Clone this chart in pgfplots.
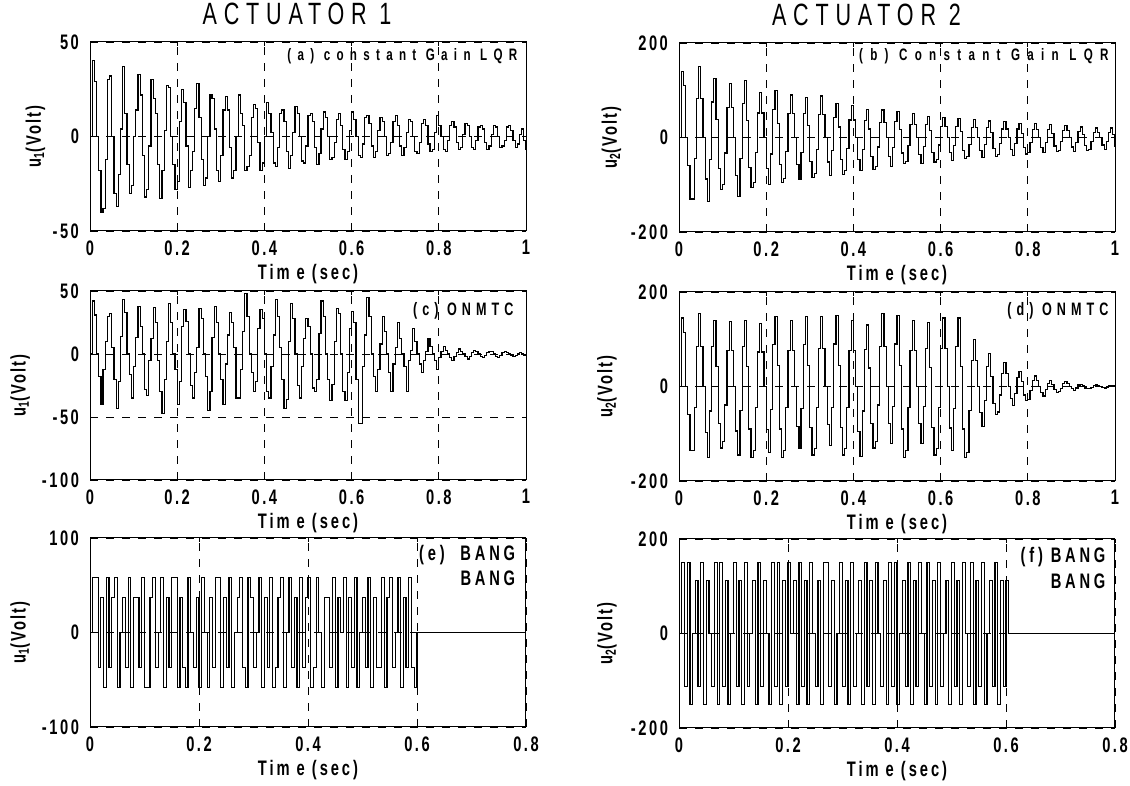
\documentclass[border=0pt]{standalone}
\usepackage{fontspec}
\setmainfont{Liberation Sans}[FakeStretch=0.7]
\usepackage{pgfplots}
\pgfplotsset{compat=1.18}

% fonts of the scan: condensed, letter-spaced
\newcommand{\tickfont}{\bfseries\fontsize{10.5}{12}\selectfont\addfontfeatures{LetterSpace=12}}
\newcommand{\labfont}{\bfseries\fontsize{10.5}{12}\selectfont\addfontfeatures{LetterSpace=14}}

\tikzset{note/.style={anchor=base east, inner sep=0pt}}
\pgfplotsset{
  panel/.style={
    scale only axis, width=218pt, height=94.5pt, anchor=south west,
    axis line style={line width=0.5pt},
    xmajorgrids, ymajorgrids,
    major grid style={black, line width=0.45pt, dash pattern=on 4pt off 4pt},
    tick align=inside, major tick length=2pt, tick style={black, line width=0.4pt},
    /pgf/number format/assume math mode=true,
    tick label style={font=\tickfont},
    xticklabel style={yshift=-1.2pt},
    yticklabel style={xshift=-2pt},
    xlabel={Tim e (sec)},
    xlabel style={at={(axis description cs:0.5,0)}, anchor=center, yshift=-21.5pt, font=\labfont},
    ylabel style={anchor=center, font=\bfseries\fontsize{10.5}{12}\selectfont\addfontfeatures{LetterSpace=10}},
    title style={anchor=base, yshift=2.5pt, font=\fontsize{15.4}{18}\selectfont\addfontfeatures{LetterSpace=22}},
  },
  full/.style={xmin=0, xmax=1, xtick={0,0.2,0.4,0.6,0.8,1}},
  short/.style={xmin=0, xmax=0.8, xtick={0,0.2,0.4,0.6,0.8}},
  sig/.style={const plot, black, line width=0.6pt, mark=none},
}

\begin{document}
\begin{tikzpicture}
\useasboundingbox (0,0) rectangle (565pt,393pt);

% (a)
\begin{axis}[panel, full, at={(45pt,277.5pt)}, ymin=-50, ymax=50, ytick={-50,0,50},
  ylabel={u\textsubscript{1}(Volt)}, ylabel style={at={(axis description cs:-0.125,0.5)}},
  title={ACTUATOR 1}, title style={at={(axis description cs:0.475,1)}}]
\addplot[sig] coordinates {
(0,0) (0.005,40) (0.010,29) (0.015,0) (0.020,-18) (0.025,-40) (0.030,-38)
(0.035,-12) (0.040,30) (0.045,32) (0.050,0) (0.055,-30) (0.060,-37) (0.065,-20)
(0.070,4) (0.075,37) (0.080,12) (0.085,-15) (0.090,-30) (0.095,-26) (0.100,0)
(0.105,14) (0.110,33) (0.115,22) (0.120,-10) (0.125,-32) (0.130,-28) (0.135,-5)
(0.140,30) (0.145,20) (0.150,12) (0.155,-15) (0.160,-33) (0.165,-18) (0.170,3)
(0.175,27) (0.180,26) (0.185,0) (0.190,-15) (0.195,-28) (0.200,-24) (0.205,8)
(0.210,25) (0.215,18) (0.220,-5) (0.225,-27) (0.230,-18) (0.235,-8) (0.240,15)
(0.245,28) (0.250,10) (0.255,-12) (0.260,-26) (0.265,-22) (0.270,0) (0.275,22)
(0.280,20) (0.285,4) (0.290,-18) (0.295,-24) (0.300,-10) (0.305,14) (0.310,21)
(0.315,14) (0.320,-6) (0.325,-22) (0.330,-18) (0.335,0) (0.340,22) (0.345,12)
(0.350,6) (0.355,-18) (0.360,-16) (0.365,-10) (0.370,10) (0.375,17) (0.380,15)
(0.385,-3) (0.390,-18) (0.395,-14) (0.400,0) (0.405,18) (0.410,12) (0.415,2)
(0.420,-14) (0.425,-16) (0.430,-6) (0.435,12) (0.440,14) (0.445,8) (0.450,-8)
(0.455,-17) (0.460,-10) (0.465,2) (0.470,16) (0.475,12) (0.480,0) (0.485,-13)
(0.490,-14) (0.495,-5) (0.500,11) (0.505,12) (0.510,8) (0.515,-6) (0.520,-15)
(0.525,-9) (0.530,4) (0.535,13) (0.540,10) (0.545,0) (0.550,-12) (0.555,-11)
(0.560,-3) (0.565,9) (0.570,12) (0.575,6) (0.580,-7) (0.585,-12) (0.590,-8)
(0.595,3) (0.600,13) (0.605,9) (0.610,0) (0.615,-10) (0.620,-11) (0.625,-4)
(0.630,10) (0.635,11) (0.640,7) (0.645,-5) (0.650,-11) (0.655,-8) (0.660,3)
(0.665,10) (0.670,8) (0.675,0) (0.680,-10) (0.685,-9) (0.690,-3) (0.695,8)
(0.700,11) (0.705,6) (0.710,-5) (0.715,-10) (0.720,-6) (0.725,2) (0.730,9)
(0.735,8) (0.740,0) (0.745,-8) (0.750,-9) (0.755,-3) (0.760,7) (0.765,9)
(0.770,6) (0.775,-4) (0.780,-8) (0.785,-7) (0.790,2) (0.795,11) (0.800,6)
(0.805,0) (0.810,-7) (0.815,-8) (0.820,-2) (0.825,6) (0.830,8) (0.835,5)
(0.840,-3) (0.845,-7) (0.850,-6) (0.855,1) (0.860,7) (0.865,6) (0.870,0)
(0.875,-6) (0.880,-7) (0.885,-2) (0.890,5) (0.895,6) (0.900,4) (0.905,-3)
(0.910,-7) (0.915,-5) (0.920,1) (0.925,6) (0.930,5) (0.935,0) (0.940,-6)
(0.945,-5) (0.950,-2) (0.955,5) (0.960,6) (0.965,3) (0.970,-2) (0.975,-6)
(0.980,-4) (0.985,1) (0.990,4) (0.995,-2) (1.000,-7)
};
\node[note, font=\bfseries\fontsize{8.3}{9}\selectfont\addfontfeatures{LetterSpace=38}] at (rel axis cs:0.981,0.90) {(a) constant Gain LQR};
\end{axis}

% (b)
\begin{axis}[panel, full, at={(339.5pt,277pt)}, ymin=-200, ymax=200, ytick={-200,0,200},
  ylabel={u\textsubscript{2}(Volt)}, ylabel style={at={(axis description cs:-0.155,0.5)}},
  title={ACTUATOR 2}, title style={at={(axis description cs:0.43,1)}}]
\addplot[sig] coordinates {
(0,0)
(0.005,140) (0.010,110) (0.015,0) (0.020,-60) (0.025,-130) (0.030,-130) (0.035,-45)
(0.040,82) (0.045,150) (0.050,82) (0.055,0) (0.060,-88) (0.065,-135) (0.070,-47)
(0.075,75) (0.080,125) (0.085,38) (0.090,-66) (0.095,-110) (0.100,-99) (0.105,-33)
(0.110,63) (0.115,115) (0.120,63) (0.125,0) (0.130,-81) (0.135,-125) (0.140,-44)
(0.145,72) (0.150,120) (0.155,36) (0.160,-63) (0.165,-105) (0.170,-95) (0.175,-32)
(0.180,52) (0.185,95) (0.190,52) (0.195,0) (0.200,-65) (0.205,-100) (0.210,-35)
(0.215,60) (0.220,100) (0.225,30) (0.230,-57) (0.235,-95) (0.240,-86) (0.245,-29)
(0.250,50) (0.255,90) (0.260,50) (0.265,0) (0.270,-57) (0.275,-88) (0.280,-31)
(0.285,51) (0.290,85) (0.295,26) (0.300,-51) (0.305,-85) (0.310,-77) (0.315,-26)
(0.320,48) (0.325,88) (0.330,48) (0.335,0) (0.340,-52) (0.345,-80) (0.350,-28)
(0.355,43) (0.360,72) (0.365,22) (0.370,-47) (0.375,-78) (0.380,-70) (0.385,-23)
(0.390,37) (0.395,68) (0.400,37) (0.405,0) (0.410,-46) (0.415,-70) (0.420,-25)
(0.425,36) (0.430,60) (0.435,18) (0.440,-41) (0.445,-68) (0.450,-61) (0.455,-20)
(0.460,32) (0.465,58) (0.470,32) (0.475,0) (0.480,-40) (0.485,-62) (0.490,-22)
(0.495,33) (0.500,55) (0.505,17) (0.510,-33) (0.515,-55) (0.520,-50) (0.525,-17)
(0.530,28) (0.535,50) (0.540,28) (0.545,0) (0.550,-36) (0.555,-55) (0.560,-19)
(0.565,27) (0.570,45) (0.575,14) (0.580,-31) (0.585,-52) (0.590,-47) (0.595,-16)
(0.600,23) (0.605,42) (0.610,23) (0.615,0) (0.620,-31) (0.625,-48) (0.630,-17)
(0.635,24) (0.640,40) (0.645,12) (0.650,-27) (0.655,-45) (0.660,-41) (0.665,-14)
(0.670,21) (0.675,38) (0.680,21) (0.685,0) (0.690,-27) (0.695,-42) (0.700,-15)
(0.705,21) (0.710,35) (0.715,11) (0.720,-24) (0.725,-40) (0.730,-36) (0.735,-12)
(0.740,18) (0.745,33) (0.750,18) (0.755,0) (0.760,-25) (0.765,-38) (0.770,-13)
(0.775,18) (0.780,30) (0.785,9) (0.790,-21) (0.795,-35) (0.800,-32) (0.805,-11)
(0.810,17) (0.815,30) (0.820,17) (0.825,0) (0.830,-21) (0.835,-32) (0.840,-11)
(0.845,17) (0.850,28) (0.855,8) (0.860,-18) (0.865,-30) (0.870,-27) (0.875,-9)
(0.880,14) (0.885,25) (0.890,14) (0.895,0) (0.900,-20) (0.905,-30) (0.910,-10)
(0.915,13) (0.920,22) (0.925,7) (0.930,-17) (0.935,-28) (0.940,-25) (0.945,-8)
(0.950,11) (0.955,20) (0.960,11) (0.965,0) (0.970,-16) (0.975,-25) (0.980,-9)
(0.985,11) (0.990,20) (0.995,6) (1.000,-20)
};
\node[note, font=\bfseries\fontsize{8.3}{9}\selectfont\addfontfeatures{LetterSpace=44}] at (rel axis cs:0.986,0.905) {(b) Constant Gain LQR};
\end{axis}

% (c)
\begin{axis}[panel, full, at={(45pt,153pt)}, ymin=-100, ymax=50, ytick={-100,-50,0,50},
  ylabel={u\textsubscript{1}(Volt)}, ylabel style={at={(axis description cs:-0.16,0.5)}}]
\addplot[sig] coordinates {
(0,0)
(0.005,42) (0.010,31) (0.015,0) (0.020,-18) (0.025,-40) (0.030,-12) (0.035,10)
(0.040,30) (0.045,32) (0.050,5) (0.055,-20) (0.060,-43) (0.065,-22) (0.070,14)
(0.075,43) (0.080,33) (0.085,0) (0.090,-16) (0.095,-35) (0.100,-10) (0.105,13)
(0.110,38) (0.115,22) (0.120,0) (0.125,-28) (0.130,-33) (0.135,-5) (0.140,12)
(0.145,37) (0.150,25) (0.155,-5) (0.160,-30) (0.165,-47) (0.170,-20) (0.175,10)
(0.180,40) (0.185,25) (0.190,0) (0.195,-12) (0.200,-40) (0.205,-22) (0.210,22)
(0.215,35) (0.220,26) (0.225,0) (0.230,-25) (0.235,-35) (0.240,-15) (0.245,5)
(0.250,36) (0.255,28) (0.260,0) (0.265,-18) (0.270,-45) (0.275,-30) (0.280,13)
(0.285,38) (0.290,25) (0.295,0) (0.300,-20) (0.305,-40) (0.310,-8) (0.315,15)
(0.320,33) (0.325,25) (0.330,5) (0.335,-35) (0.340,-35) (0.345,-12) (0.350,18)
(0.355,48) (0.360,30) (0.365,0) (0.370,-15) (0.375,-30) (0.380,-22) (0.385,20)
(0.390,35) (0.395,28) (0.400,0) (0.405,-30) (0.410,-35) (0.415,-10) (0.420,15)
(0.425,43) (0.430,30) (0.435,5) (0.440,-20) (0.445,-43) (0.450,-36) (0.455,10)
(0.460,40) (0.465,28) (0.470,0) (0.475,-25) (0.480,-35) (0.485,-10) (0.490,12)
(0.495,28) (0.500,22) (0.505,0) (0.510,-27) (0.515,-30) (0.520,-20) (0.525,16)
(0.530,42) (0.535,30) (0.540,0) (0.545,-20) (0.550,-37) (0.555,-24) (0.560,10)
(0.565,36) (0.570,32) (0.575,0) (0.580,-30) (0.585,-37) (0.590,-15) (0.595,20)
(0.600,34) (0.605,25) (0.610,-20) (0.615,-55) (0.620,-55) (0.625,-10) (0.630,15)
(0.635,45) (0.640,30) (0.645,0) (0.650,-18) (0.655,-30) (0.660,-12) (0.665,8)
(0.670,30) (0.675,18) (0.680,0) (0.685,-15) (0.690,-30) (0.695,-8) (0.700,5)
(0.705,25) (0.710,12) (0.715,0) (0.720,-10) (0.725,-30) (0.730,-5) (0.735,3)
(0.740,20) (0.745,10) (0.750,0) (0.755,-8) (0.760,-15) (0.765,-5) (0.770,2)
(0.775,12) (0.780,6) (0.785,0) (0.790,-5) (0.795,-12) (0.800,-3) (0.805,2)
(0.810,6) (0.815,3) (0.820,0) (0.825,-3) (0.830,-5) (0.835,-2) (0.840,1)
(0.845,4) (0.850,2) (0.855,0) (0.860,-2) (0.865,-4) (0.870,-2) (0.875,1)
(0.880,3) (0.885,2) (0.890,0) (0.895,-2) (0.900,-3) (0.905,-1) (0.910,1)
(0.915,2) (0.920,2) (0.925,0) (0.930,-2) (0.935,-3) (0.940,-1) (0.945,1)
(0.950,2) (0.955,1) (0.960,0) (0.965,-1) (0.970,-2) (0.975,-1) (0.980,0)
(0.985,1) (0.990,0) (0.995,-1) (1.000,-1)
};
\node[note, font=\bfseries\fontsize{9}{11}\selectfont\addfontfeatures{LetterSpace=28}] at (rel axis cs:0.972,0.871) {(c) ONMTC};
\end{axis}

% (d)
\begin{axis}[panel, full, at={(339.5pt,152.5pt)}, ymin=-200, ymax=200, ytick={-200,0,200},
  ylabel={u\textsubscript{2}(Volt)}, ylabel style={at={(axis description cs:-0.165,0.5)}}]
\addplot[sig] coordinates {
(0,0)
(0.005,145) (0.010,115) (0.015,0) (0.020,-60) (0.025,-135) (0.030,-135) (0.035,-45)
(0.040,85) (0.045,155) (0.050,85) (0.055,0) (0.060,-98) (0.065,-150) (0.070,-52)
(0.075,84) (0.080,140) (0.085,42) (0.090,-78) (0.095,-130) (0.100,-117) (0.105,-39)
(0.110,76) (0.115,138) (0.120,76) (0.125,0) (0.130,-94) (0.135,-145) (0.140,-51)
(0.145,84) (0.150,140) (0.155,42) (0.160,-90) (0.165,-150) (0.170,-135) (0.175,-45)
(0.180,73) (0.185,133) (0.190,73) (0.195,0) (0.200,-91) (0.205,-140) (0.210,-49)
(0.215,89) (0.220,148) (0.225,44) (0.230,-90) (0.235,-150) (0.240,-135) (0.245,-45)
(0.250,77) (0.255,140) (0.260,77) (0.265,0) (0.270,-85) (0.275,-130) (0.280,-46)
(0.285,89) (0.290,148) (0.295,44) (0.300,-87) (0.305,-145) (0.310,-131) (0.315,-44)
(0.320,81) (0.325,148) (0.330,81) (0.335,0) (0.340,-81) (0.345,-125) (0.350,-44)
(0.355,90) (0.360,150) (0.365,45) (0.370,-87) (0.375,-145) (0.380,-131) (0.385,-44)
(0.390,77) (0.395,140) (0.400,77) (0.405,0) (0.410,-96) (0.415,-148) (0.420,-52)
(0.425,78) (0.430,130) (0.435,39) (0.440,-78) (0.445,-130) (0.450,-117) (0.455,-39)
(0.460,85) (0.465,155) (0.470,85) (0.475,0) (0.480,-78) (0.485,-120) (0.490,-42)
(0.495,90) (0.500,150) (0.505,45) (0.510,-90) (0.515,-150) (0.520,-135) (0.525,-45)
(0.530,77) (0.535,140) (0.540,77) (0.545,0) (0.550,-78) (0.555,-120) (0.560,-42)
(0.565,81) (0.570,135) (0.575,41) (0.580,-87) (0.585,-145) (0.590,-131) (0.595,-44)
(0.600,80) (0.605,145) (0.610,80) (0.615,0) (0.620,-88) (0.625,-135) (0.630,-47)
(0.635,84) (0.640,145) (0.645,42) (0.650,-90) (0.655,-150) (0.660,-140) (0.665,-50)
(0.670,55) (0.675,100) (0.680,55) (0.685,0) (0.690,-55) (0.695,-85) (0.700,-30)
(0.705,42) (0.710,70) (0.715,21) (0.720,-36) (0.725,-60) (0.730,-54) (0.735,-18)
(0.740,28) (0.745,50) (0.750,28) (0.755,0) (0.760,-26) (0.765,-40) (0.770,-14)
(0.775,19) (0.780,32) (0.785,10) (0.790,-18) (0.795,-30) (0.800,-27) (0.805,-9)
(0.810,12) (0.815,22) (0.820,12) (0.825,0) (0.830,-13) (0.835,-20) (0.840,-7)
(0.845,7) (0.850,12) (0.855,4) (0.860,-7) (0.865,-12) (0.870,-11) (0.875,-4)
(0.880,6) (0.885,10) (0.890,6) (0.895,0) (0.900,-5) (0.905,-8) (0.910,-3)
(0.915,3) (0.920,5) (0.925,2) (0.930,-3) (0.935,-5) (0.940,-4) (0.945,-2)
(0.950,2) (0.955,3) (0.960,2) (0.965,0) (0.970,-2) (0.975,-3) (0.980,-1)
(0.985,1) (0.990,2) (0.995,1) (1.000,-1)
};
\node[note, font=\bfseries\fontsize{9}{11}\selectfont\addfontfeatures{LetterSpace=28}] at (rel axis cs:0.986,0.876) {(d) ONMTC};
\end{axis}

% (e)
\begin{axis}[panel, short, at={(45pt,29.5pt)}, ymin=-100, ymax=100, ytick={-100,0,100},
  ylabel={u\textsubscript{1}(Volt)}, ylabel style={at={(axis description cs:-0.16,0.5)}}]
\addplot[sig] coordinates {
(0,0) (0.005,58) (0.010,58) (0.015,-37) (0.020,37) (0.025,-58) (0.030,58)
(0.035,-37) (0.040,37) (0.045,58) (0.050,-58) (0.055,0) (0.060,37) (0.065,-37)
(0.070,58) (0.075,-58) (0.080,37) (0.085,37) (0.090,-37) (0.095,58) (0.100,-58)
(0.105,-58) (0.110,37) (0.115,58) (0.120,-37) (0.125,0) (0.130,58) (0.135,-58)
(0.140,37) (0.145,-37) (0.150,58) (0.155,58) (0.160,-58) (0.165,37) (0.170,-37)
(0.175,-58) (0.180,58) (0.185,0) (0.190,-37) (0.195,37) (0.200,-58) (0.205,58)
(0.210,0) (0.215,-58) (0.220,37) (0.225,-37) (0.230,58) (0.235,58) (0.240,-58)
(0.245,37) (0.250,-37) (0.255,58) (0.260,-58) (0.265,0) (0.270,37) (0.275,58)
(0.280,-37) (0.285,-58) (0.290,58) (0.295,37) (0.300,-37) (0.305,0) (0.310,58)
(0.315,-58) (0.320,37) (0.325,-37) (0.330,58) (0.335,-58) (0.340,-37) (0.345,37)
(0.350,58) (0.355,-58) (0.360,0) (0.365,58) (0.370,-37) (0.375,37) (0.380,-58)
(0.385,58) (0.390,-37) (0.395,37) (0.400,58) (0.405,-58) (0.410,-37) (0.415,58)
(0.420,0) (0.425,-58) (0.430,37) (0.435,37) (0.440,-37) (0.445,58) (0.450,-58)
(0.455,37) (0.460,0) (0.465,58) (0.470,-58) (0.475,37) (0.480,-37) (0.485,58)
(0.490,-58) (0.495,0) (0.500,37) (0.505,-37) (0.510,58) (0.515,-58) (0.520,37)
(0.525,-37) (0.530,-37) (0.535,58) (0.540,-58) (0.545,37) (0.550,58) (0.555,-37)
(0.560,0) (0.565,58) (0.570,-58) (0.575,37) (0.580,-37) (0.585,58) (0.590,-37)
(0.595,-58) (0.600,0) (0.800,0)
};
\node[note, font=\bfseries\fontsize{10.5}{12}\selectfont\addfontfeatures{LetterSpace=18}] at (rel axis cs:0.976,0.88) {(e)\ \ BANG};
\node[note, font=\bfseries\fontsize{10.5}{12}\selectfont\addfontfeatures{LetterSpace=18}] at (rel axis cs:0.976,0.747) {BANG};
\end{axis}

% (f)
\begin{axis}[panel, short, at={(339.5pt,29pt)}, ymin=-200, ymax=200, ytick={-200,0,200},
  ylabel={u\textsubscript{2}(Volt)}, ylabel style={at={(axis description cs:-0.165,0.5)}}]
\addplot[sig] coordinates {
(0,0) (0.005,150) (0.010,-112) (0.015,150) (0.020,-150) (0.025,0) (0.030,112)
(0.035,-112) (0.040,150) (0.045,-150) (0.050,112) (0.055,0) (0.060,-112) (0.065,150)
(0.070,-150) (0.075,150) (0.080,-112) (0.085,112) (0.090,-150) (0.095,0) (0.100,150)
(0.105,-112) (0.110,112) (0.115,-150) (0.120,150) (0.125,-112) (0.130,0) (0.135,112)
(0.140,-150) (0.145,150) (0.150,-112) (0.155,112) (0.160,0) (0.165,-150) (0.170,150)
(0.175,-112) (0.180,150) (0.185,-150) (0.190,112) (0.195,-112) (0.200,150) (0.205,0)
(0.210,112) (0.215,-150) (0.220,150) (0.225,-112) (0.230,112) (0.235,-150) (0.240,150)
(0.245,0) (0.250,-112) (0.255,112) (0.260,-150) (0.265,150) (0.270,150) (0.275,-112)
(0.280,112) (0.285,-150) (0.290,0) (0.295,150) (0.300,-112) (0.305,112) (0.310,-150)
(0.315,150) (0.320,-112) (0.325,0) (0.330,112) (0.335,-150) (0.340,150) (0.345,-112)
(0.350,112) (0.355,-150) (0.360,150) (0.365,0) (0.370,-112) (0.375,112) (0.380,-150)
(0.385,150) (0.390,-112) (0.395,150) (0.400,-150) (0.405,0) (0.410,112) (0.415,-112)
(0.420,150) (0.425,-150) (0.430,112) (0.435,-112) (0.440,150) (0.445,0) (0.450,-150)
(0.455,150) (0.460,-112) (0.465,112) (0.470,-150) (0.475,150) (0.480,-112) (0.485,0)
(0.490,112) (0.495,-150) (0.500,150) (0.505,-112) (0.510,112) (0.515,-150) (0.520,150)
(0.525,0) (0.530,-112) (0.535,150) (0.540,-150) (0.545,112) (0.550,-112) (0.555,150)
(0.560,-150) (0.565,0) (0.570,112) (0.575,-112) (0.580,150) (0.585,-150) (0.590,112)
(0.595,-112) (0.600,112) (0.605,0) (0.800,0)
};
\node[note, font=\bfseries\fontsize{10.5}{12}\selectfont\addfontfeatures{LetterSpace=18}] at (rel axis cs:0.979,0.875) {(f) BANG};
\node[note, font=\bfseries\fontsize{10.5}{12}\selectfont\addfontfeatures{LetterSpace=18}] at (rel axis cs:0.979,0.737) {BANG};
\end{axis}
\end{tikzpicture}
\end{document}
